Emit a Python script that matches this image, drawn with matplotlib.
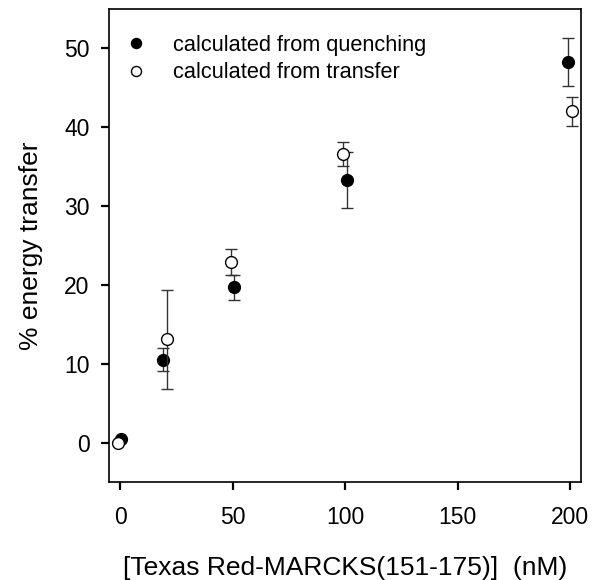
import matplotlib
matplotlib.use("Agg")
import matplotlib.pyplot as plt
import numpy as np

plt.rcParams['font.family'] = ['Liberation Sans', 'DejaVu Sans']

# calculated from quenching (filled)
conc_q = [0.5, 19, 50.5, 101, 199]
eff_q = [0.5, 10.5, 19.7, 33.3, 48.3]
err_q = [0.0, 1.45, 1.6, 3.5, 3.05]

# calculated from transfer (open)
conc_t = [-1, 21, 49.5, 99, 201]
eff_t = [0.0, 13.1, 22.9, 36.6, 42.0]
err_t = [0.0, 6.3, 1.6, 1.5, 1.85]

fig = plt.figure(figsize=(5.99, 5.8), dpi=100)
ax = fig.add_axes([0.182, 0.169, 0.788, 0.8155])

ax.errorbar(conc_q, eff_q, yerr=err_q, fmt='o', color='black', mfc='black',
            ms=8.5, ecolor='#333333', elinewidth=1, capsize=4.5, capthick=1,
            label='calculated from quenching', zorder=3)
ax.errorbar(conc_t, eff_t, yerr=err_t, fmt='o', color='black', mfc='white',
            ms=8.5, ecolor='#333333', elinewidth=1, capsize=4.5, capthick=1,
            label='calculated from transfer', zorder=4)

ax.set_xlim(-4.9, 204.9)
ax.set_ylim(-5, 55)
ax.set_xticks([0, 50, 100, 150, 200])
ax.set_yticks([0, 10, 20, 30, 40, 50])
ax.tick_params(direction='out', length=6, width=1.6, labelsize=16.5)
ax.tick_params(axis='x', pad=11)
ax.tick_params(axis='y', pad=8)
for s in ax.spines.values():
    s.set_linewidth(1.2)

ax.set_xlabel('[Texas Red-MARCKS(151-175)]  (nM)', fontsize=19, labelpad=20)
ax.set_ylabel('% energy transfer', fontsize=19, labelpad=15)

handles, labels = ax.get_legend_handles_labels()
handles = [h[0] for h in handles]
ax.legend(handles, labels, loc='upper left', bbox_to_anchor=(0.015, 0.964),
          frameon=False, fontsize=15.7, handlelength=1.0, handletextpad=1.2,
          borderaxespad=0, labelspacing=0.3, markerscale=0.85)

fig.savefig('out.png', dpi=100)
